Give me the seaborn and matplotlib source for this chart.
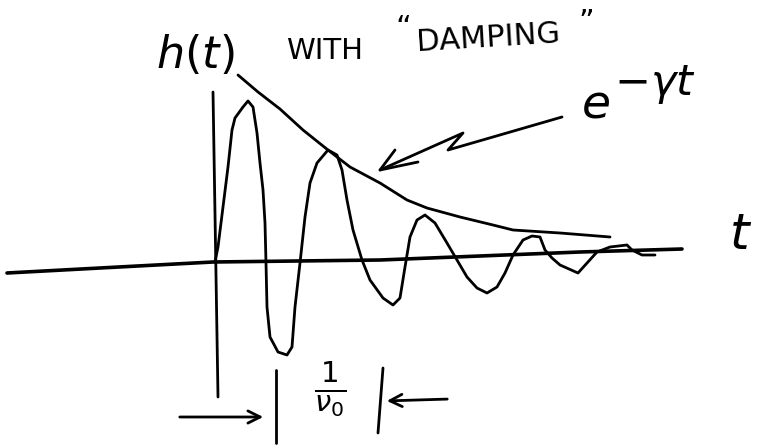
import matplotlib
matplotlib.use("Agg")
import matplotlib.pyplot as plt
import seaborn as sns
import pandas as pd

# Damped oscillation h(t), traced points
wave_t = [0.00, 0.03, 0.08, 0.13, 0.17, 0.20, 0.28, 0.33, 0.38, 0.42, 0.45, 0.48,
          0.50, 0.51, 0.52, 0.55, 0.63, 0.72, 0.77, 0.80, 0.85, 0.90, 0.95, 1.02,
          1.13, 1.22, 1.27, 1.32, 1.38, 1.47, 1.55, 1.68, 1.78, 1.85, 1.90, 1.95,
          2.02, 2.10, 2.20, 2.32, 2.42, 2.52, 2.62, 2.72, 2.82, 2.90, 2.98, 3.08,
          3.17, 3.25, 3.30, 3.37, 3.45, 3.63, 3.82, 3.95, 4.12, 4.17, 4.27, 4.40]
wave_h = [0.00, 0.15, 0.55, 0.95, 1.32, 1.44, 1.55, 1.61, 1.55, 1.29, 0.99, 0.72,
          0.39, -0.01, -0.45, -0.75, -0.90, -0.93, -0.85, -0.45, -0.01, 0.45, 0.79, 0.99,
          1.12, 1.07, 0.92, 0.62, 0.32, 0.02, -0.18, -0.36, -0.43, -0.36, -0.05, 0.25,
          0.42, 0.47, 0.39, 0.19, 0.02, -0.15, -0.26, -0.31, -0.25, -0.11, 0.07, 0.22,
          0.26, 0.25, 0.12, 0.04, -0.03, -0.11, 0.10, 0.15, 0.17, 0.12, 0.07, 0.07]

# Exponential envelope e^{-gamma t}
env_t = [0.23, 0.43, 0.65, 0.88, 1.13, 1.35, 1.65, 1.92, 2.12, 2.45, 2.78, 2.98, 3.45, 3.95]
env_h = [1.87, 1.70, 1.53, 1.32, 1.12, 0.95, 0.79, 0.62, 0.54, 0.45, 0.37, 0.32, 0.29, 0.25]

# Hand-drawn axes
taxis_t = [-2.08, -1.15, -0.02, 1.65, 3.65, 4.67]
taxis_h = [-0.11, -0.06, 0.00, 0.02, 0.10, 0.13]
haxis_t = [-0.02, 0.03]
haxis_h = [1.70, -1.35]

# Lightning-style pointer from the envelope label to the curve
bolt_t = [3.47, 2.33, 2.48, 1.65]
bolt_h = [1.45, 1.12, 1.29, 0.92]
barb_t = [1.80, 1.65, 2.03]
barb_h = [1.12, 0.92, 1.00]

# Period marker 1/nu0
period_left = 0.61
period_right = 1.66

sns.set_theme(style="white")
plt.rcParams['font.family'] = ['DejaVu Sans']

fig = plt.figure(figsize=(7.63, 4.46), dpi=100)
ax = fig.add_axes([0, 0, 1, 1])
ink = "#000000"
lw = 2.0
line_kw = dict(sort=False, estimator=None, color=ink, ax=ax,
               solid_joinstyle="round", solid_capstyle="round")

sns.lineplot(x=taxis_t, y=taxis_h, lw=2.6, **line_kw)
sns.lineplot(x=haxis_t, y=haxis_h, lw=lw, **line_kw)
sns.lineplot(data=pd.DataFrame({"t": wave_t, "h": wave_h}), x="t", y="h", lw=lw, **line_kw)
sns.lineplot(data=pd.DataFrame({"t": env_t, "h": env_h}), x="t", y="h", lw=lw, **line_kw)
sns.lineplot(x=bolt_t, y=bolt_h, lw=lw, **line_kw)
sns.lineplot(x=barb_t, y=barb_h, lw=lw, **line_kw)

# Period bars and arrows
ax.plot([period_left, period_left], [-1.08, -1.81], color=ink, lw=lw)
ax.plot([period_right + 0.02, period_right - 0.03], [-1.06, -1.71], color=ink, lw=lw)
ax.annotate("", xy=(period_left - 0.10, -1.55), xytext=(-0.38, -1.55),
            arrowprops=dict(arrowstyle="->", color=ink, lw=lw, mutation_scale=22))
ax.annotate("", xy=(period_right + 0.03, -1.39), xytext=(2.35, -1.37),
            arrowprops=dict(arrowstyle="->", color=ink, lw=lw, mutation_scale=22))

# Labels
ax.text(-0.20, 2.07, r"$h(t)$", fontsize=32, ha="center", va="center", color=ink)
ax.text(1.10, 2.11, "WITH", fontsize=21, ha="center", va="center", color=ink)
ax.text(1.88, 2.34, "\u201c", fontsize=22, ha="center", va="center", color=ink)
ax.text(2.73, 2.24, "DAMPING", fontsize=22, ha="center", va="center",
        color=ink, rotation=3.5)
ax.text(3.71, 2.40, "\u201d", fontsize=22, ha="center", va="center", color=ink)
ax.text(3.66, 1.44, r"$e$", fontsize=34, ha="left", va="baseline", color=ink)
ax.text(3.99, 1.67, r"$-\gamma t$", fontsize=31, ha="left", va="baseline", color=ink)
ax.text(5.26, 0.27, r"$t$", fontsize=36, ha="center", va="center", color=ink)
ax.text(1.15, -1.27, r"$\frac{1}{\nu_0}$", fontsize=30, ha="center", va="center", color=ink)

ax.set_xlim(-2.15, 5.48)
ax.set_ylim(-1.84, 2.62)
ax.set_axis_off()
fig.savefig("out.png", dpi=100, facecolor="white")
